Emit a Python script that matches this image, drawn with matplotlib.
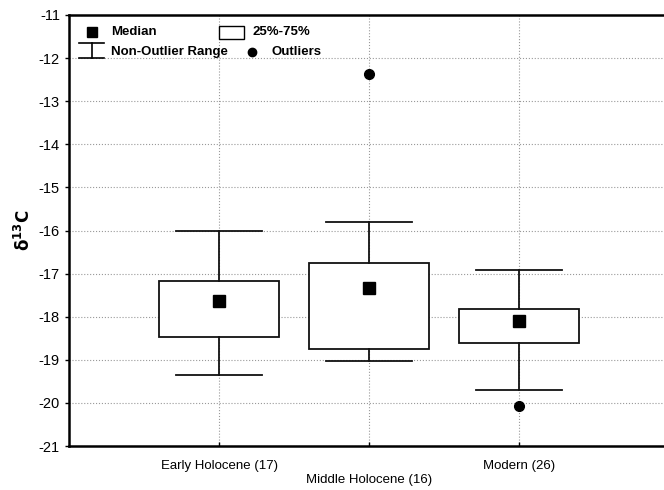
"""Box plot of d13C by period (median, 25-75%, non-outlier range, outliers)."""
import matplotlib

matplotlib.use("Agg")
import matplotlib.pyplot as plt

plt.rcParams["font.family"] = ["Liberation Sans", "DejaVu Sans"]
plt.rcParams["axes.unicode_minus"] = False

groups = ["Early Holocene (17)", "Middle Holocene (16)", "Modern (26)"]
medians = [-17.64, -17.33, -18.09]
q25 = [-18.46, -18.74, -18.61]
q75 = [-17.17, -16.76, -17.82]
whisk_lo = [-19.35, -19.03, -19.70]
whisk_hi = [-16.00, -15.80, -16.92]
outlier_x = [2, 3]
outlier_y = [-12.36, -20.08]

fig = plt.figure(figsize=(6.64, 4.90), dpi=100)
ax = fig.add_axes([69 / 664, 1 - 446 / 490, 600 / 664, 431 / 490])

pos = [1, 2, 3]
box_w = 0.8
cap_w = 0.57
for x, lo, hi, a, b, med in zip(pos, whisk_lo, whisk_hi, q25, q75, medians):
    ax.add_patch(plt.Rectangle((x - box_w / 2, a), box_w, b - a,
                               facecolor="white", edgecolor="#111111",
                               lw=1.3, zorder=3))
    ax.plot([x, x], [b, hi], color="#111111", lw=1.3, zorder=3)
    ax.plot([x, x], [lo, a], color="#111111", lw=1.3, zorder=3)
    ax.plot([x - cap_w / 2, x + cap_w / 2], [hi, hi], color="#111111", lw=1.3, zorder=3)
    ax.plot([x - cap_w / 2, x + cap_w / 2], [lo, lo], color="#111111", lw=1.3, zorder=3)
ax.plot(pos, medians, "s", color="black", ms=8, zorder=4)
ax.plot(outlier_x, outlier_y, "o", color="black", ms=7, zorder=4)

ax.set_xlim(0, 4)
ax.set_ylim(-21, -11)
ax.set_yticks(range(-21, -10))
ax.set_xticks(pos)
ax.set_xticklabels([groups[0], "\n" + groups[1], groups[2]], fontsize=9.5,
                   linespacing=1.2)
ax.tick_params(axis="y", labelsize=10.5, length=3, width=1, direction="out")
ax.tick_params(axis="x", length=3, width=1, direction="in", pad=10)
ax.grid(True, ls=":", color="#999999", lw=0.8)
ax.set_axisbelow(True)
for s in ("left", "bottom", "top"):
    ax.spines[s].set_linewidth(1.8)
ax.spines["right"].set_visible(False)
ax.set_ylabel(r"$\mathbf{\delta^{13}C}$", fontsize=12, labelpad=4)

# legend drawn by hand in axes coordinates
t = ax.transAxes
kw = dict(transform=t, fontsize=9.5, fontweight="bold", va="center", zorder=6)
ax.plot([0.038], [0.96], "s", color="black", ms=7, transform=t, clip_on=False, zorder=6)
ax.text(0.070, 0.96, "Median", **kw)
ax.add_patch(plt.Rectangle((0.250, 0.944), 0.042, 0.03, transform=t,
                           facecolor="white", edgecolor="black", lw=1, zorder=6))
ax.text(0.305, 0.96, "25%-75%", **kw)
ax.plot([0.017, 0.058], [0.935, 0.935], color="black", lw=1.2, transform=t, zorder=6)
ax.plot([0.038, 0.038], [0.935, 0.900], color="black", lw=1.2, transform=t, zorder=6)
ax.plot([0.017, 0.058], [0.900, 0.900], color="black", lw=1.2, transform=t, zorder=6)
ax.text(0.070, 0.915, "Non-Outlier Range", **kw)
ax.plot([0.305], [0.915], "o", color="black", ms=6, transform=t, zorder=6)
ax.text(0.338, 0.915, "Outliers", **kw)

fig.savefig("out.png", dpi=100)
